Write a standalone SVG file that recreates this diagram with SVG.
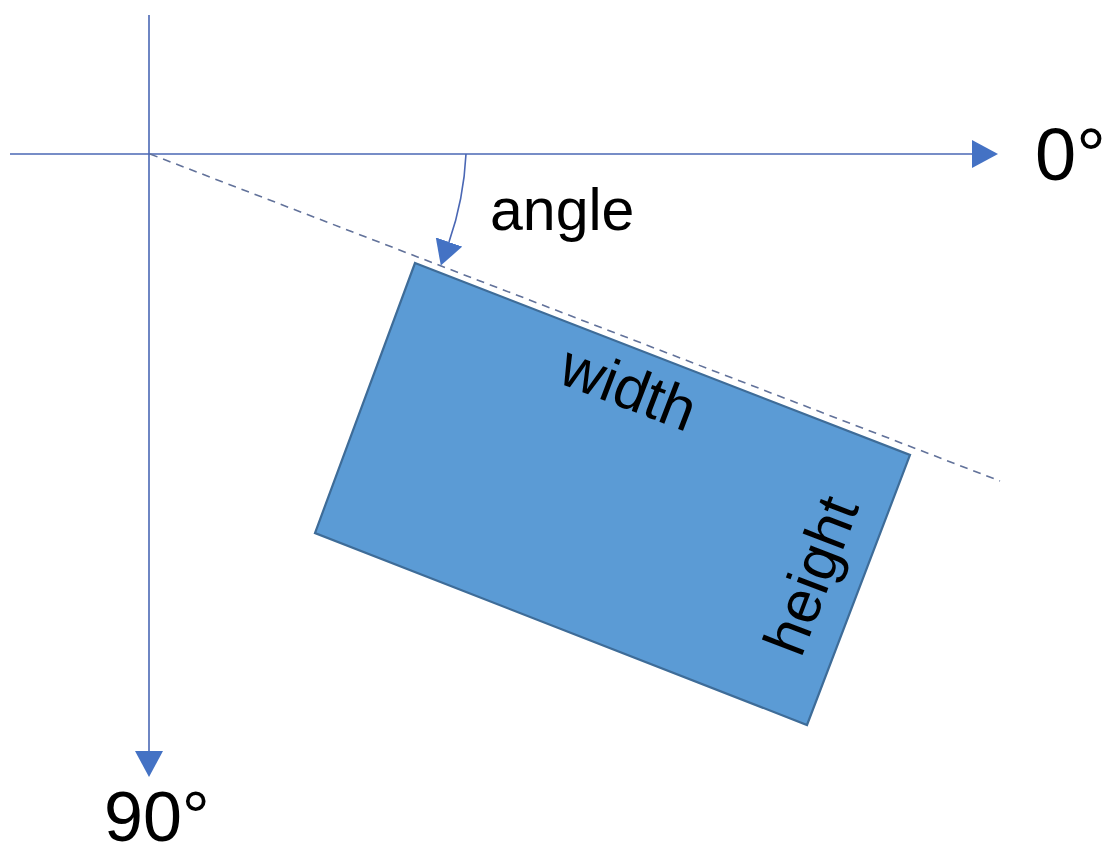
<svg xmlns="http://www.w3.org/2000/svg" width="1109" height="857" viewBox="0 0 1109 857">
<style>
.axis{stroke:#4a67b4;stroke-width:1.6;fill:none}
.dash{stroke:#62729a;stroke-width:1.6;stroke-dasharray:8 6;fill:none}
.lbl{font-family:"Liberation Sans",Arial,sans-serif;fill:#000}
</style>
<defs>
<marker id="bigArrow" markerUnits="userSpaceOnUse" markerWidth="26" markerHeight="28" viewBox="0 0 26 28" refX="0" refY="14" orient="auto">
<path d="M0,0 L26,14 L0,28 Z" fill="#4472C4"/>
</marker>
<marker id="smallArrow" markerUnits="userSpaceOnUse" markerWidth="25" markerHeight="28" viewBox="0 0 25 28" refX="0" refY="14" orient="auto">
<path d="M0,0 L25,14 L0,28 Z" fill="#4472C4"/>
</marker>
</defs>
<rect width="1109" height="857" fill="#ffffff"/>
<g id="connectors">
<line class="axis" x1="10" y1="154" x2="972" y2="154" marker-end="url(#bigArrow)"/>
<line class="axis" x1="149" y1="15" x2="149" y2="751" marker-end="url(#bigArrow)"/>
<line class="dash" x1="150" y1="154" x2="1000" y2="481"/>
<path class="axis" d="M466,154 A314,314 0 0 1 449,242" marker-end="url(#smallArrow)"/>
</g>
<g id="rectangle">
<polygon points="415,263 910,455 807,725 315,533" fill="#5B9BD5" stroke="#3E6C98" stroke-width="2.2"/>
<text class="lbl" font-size="60" transform="translate(556,382) rotate(21)">width</text>
<text class="lbl" font-size="60" transform="translate(801,659) rotate(-69)">height</text>
</g>
<g id="labels">
<text class="lbl" font-size="59" x="490" y="230">angle</text>
<text class="lbl" font-size="74" x="1035" y="180">0°</text>
<text class="lbl" font-size="70" x="104" y="841">90°</text>
</g>
</svg>
